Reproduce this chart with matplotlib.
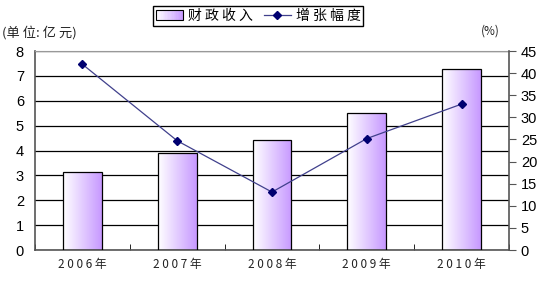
import numpy as np
import matplotlib.pyplot as plt
from matplotlib.patches import Rectangle
from matplotlib.lines import Line2D
from matplotlib.legend_handler import HandlerBase

plt.rcParams['font.family'] = ['Liberation Sans', 'Noto Sans CJK SC', 'DejaVu Sans']

years = ['2 0 0 6 年', '2 0 0 7 年', '2 0 0 8 年', '2 0 0 9 年', '2 0 1 0 年']
revenue = [3.12, 3.88, 4.42, 5.49, 7.27]      # 财政收入 (亿元)
growth = [42.0, 24.7, 13.1, 25.2, 33.0]      # 增张幅度 (%)
left_ticks = [0, 1, 2, 3, 4, 5, 6, 7, 8]
right_ticks = [0, 5, 10, 15, 20, 25, 30, 35, 40, 45]

grad = np.linspace(0, 1, 64).reshape(1, -1)
c0 = np.array([1.0, 1.0, 1.0])
c1 = np.array([0.78, 0.60, 1.0])
grad_rgb = c0 + (c1 - c0) * grad[..., None]

fig = plt.figure(figsize=(5.48, 2.84), dpi=100)
ax = fig.add_axes([35 / 548, 34 / 284, 474 / 548, 199 / 284])
x = np.arange(len(years))
w = 0.41
bars = ax.bar(x, revenue, width=w, facecolor='none', edgecolor='black', linewidth=0.9, zorder=3)
for b in bars:
    x0, y0 = b.get_x(), b.get_y()
    im = ax.imshow(grad_rgb, extent=[x0, x0 + b.get_width(), y0, y0 + b.get_height()],
                   aspect='auto', zorder=2.5)
    im.set_clip_path(b)
ax.set_xlim(-0.5, len(years) - 0.5)
ax.set_ylim(0, 8)
ax.set_yticks(left_ticks)
ax.yaxis.grid(True, color='black', linewidth=0.9, zorder=0)
ax.set_axisbelow(True)
ax.set_xticks(x)
ax.set_xticklabels(years, family=['Noto Sans CJK SC'], fontsize=8.5, color='#222222')
ax.set_xticks(np.arange(len(years) + 1) - 0.5, minor=True)
ax.tick_params(axis='x', which='major', length=0, pad=6)
ax.tick_params(axis='x', which='minor', direction='in', length=4, color='black')
ax.tick_params(axis='y', length=0, labelsize=10.5, pad=8)
for s in ['left', 'bottom']:
    ax.spines[s].set_color('#555555')
    ax.spines[s].set_linewidth(1.2)
ax.spines['top'].set_color('#999999')
ax.spines['right'].set_visible(False)

ax2 = ax.twinx()
ax2.plot(x, growth, color='#40408c', linewidth=0.9, marker='D', markersize=3.6,
         markerfacecolor='#000070', markeredgecolor='#000070', zorder=5)
ax2.set_ylim(0, 45)
ax2.set_yticks(right_ticks)
ax2.tick_params(axis='y', direction='out', length=5, labelsize=10.5, color='#555555')
for s in ['left', 'top', 'bottom']:
    ax2.spines[s].set_visible(False)
ax2.spines['right'].set_color('#555555')
ax2.spines['right'].set_linewidth(1.2)


class GradHandler(HandlerBase):
    def create_artists(self, legend, orig, xd, yd, width, height, fontsize, trans):
        arts = []
        n = 20
        for i in range(n):
            col = c0 + (c1 - c0) * (i / (n - 1))
            arts.append(Rectangle((xd + width * i / n, yd), width / n + 0.3, height,
                                  facecolor=col, edgecolor='none', transform=trans))
        arts.append(Rectangle((xd, yd), width, height, facecolor='none',
                              edgecolor='black', linewidth=0.8, transform=trans))
        return arts


h_bar = Rectangle((0, 0), 1, 1)
h_line = Line2D([], [], color='#40408c', linewidth=0.9, marker='D', markersize=3.6,
                markerfacecolor='#000070', markeredgecolor='#000070')
leg = fig.legend([h_bar, h_line], ['财 政 收 入', '增 张 幅 度'], handler_map={h_bar: GradHandler()},
                 loc='center', bbox_to_anchor=(258 / 548, 1 - 16 / 284), ncol=2,
                 frameon=True, fancybox=False, edgecolor='black', framealpha=1,
                 prop={'family': ['Noto Sans CJK SC'], 'size': 10},
                 handlelength=2.0, handleheight=0.7, handletextpad=0.3, columnspacing=0.8,
                 borderpad=0.2, borderaxespad=0)
leg.get_frame().set_linewidth(1.0)

fig.text(2 / 548, 1 - 33 / 284, '(单 位: 亿 元)', family=['Noto Sans CJK SC'], fontsize=9.5,
         va='center', ha='left', color='#222222')
fig.text(490 / 548, 1 - 31 / 284, '(%)', family=['Noto Sans CJK SC'], fontsize=8.5,
         va='center', ha='center', color='#222222')

fig.savefig('out.png', dpi=100)
